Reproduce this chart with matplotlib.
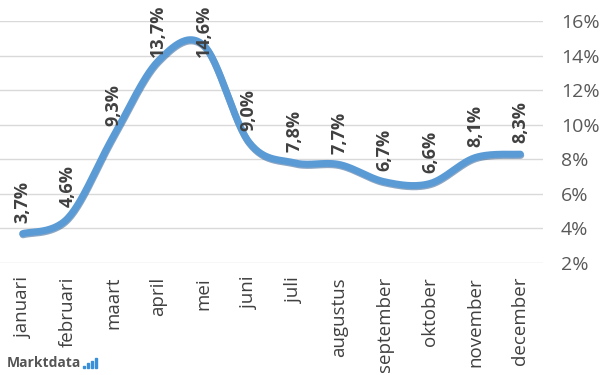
import numpy as np
import matplotlib.pyplot as plt
import matplotlib.patheffects as pe
from matplotlib.patches import Rectangle

# Data
months = ['januari', 'februari', 'maart', 'april', 'mei', 'juni', 'juli',
          'augustus', 'september', 'oktober', 'november', 'december']
values = [3.7, 4.6, 9.3, 13.7, 14.6, 9.0, 7.8, 7.7, 6.7, 6.6, 8.1, 8.3]
labels = ['3,7%', '4,6%', '9,3%', '13,7%', '14,6%', '9,0%', '7,8%', '7,7%',
          '6,7%', '6,6%', '8,1%', '8,3%']
yticks = [2, 4, 6, 8, 10, 12, 14, 16]

plt.rcParams['font.family'] = ['Open Sans', 'DejaVu Sans']

def smooth(x, y, n=30):
    # Catmull-Rom style smoothing like Excel's smoothed line
    x = np.asarray(x, float)
    y = np.asarray(y, float)
    px = np.concatenate([[x[0]], x, [x[-1]]])
    py = np.concatenate([[y[0]], y, [y[-1]]])
    xs, ys = [], []
    t = np.linspace(0, 1, n)
    for i in range(1, len(px) - 2):
        p0, p1, p2, p3 = px[i-1], px[i], px[i+1], px[i+2]
        q0, q1, q2, q3 = py[i-1], py[i], py[i+1], py[i+2]
        cx1, cx2 = p1 + (p2 - p0) / 6, p2 - (p3 - p1) / 6
        cy1, cy2 = q1 + (q2 - q0) / 6, q2 - (q3 - q1) / 6
        b0 = (1 - t) ** 3
        b1 = 3 * (1 - t) ** 2 * t
        b2 = 3 * (1 - t) * t ** 2
        b3 = t ** 3
        xs.append(b0 * p1 + b1 * cx1 + b2 * cx2 + b3 * p2)
        ys.append(b0 * q1 + b1 * cy1 + b2 * cy2 + b3 * q2)
    return np.concatenate(xs), np.concatenate(ys)

fig = plt.figure(figsize=(6, 3.75), dpi=100)
ax = fig.add_axes([0.0, 1 - 263 / 375, 543 / 600, (263 - 21) / 375])

xpos = np.arange(len(months))
sx, sy = smooth(xpos, values)
ax.plot(sx, sy, color='#5B9BD5', lw=5, solid_capstyle='round', zorder=3,
        path_effects=[pe.SimpleLineShadow(offset=(0.3, -0.9),
                                          shadow_color='#2f5f94', alpha=0.55),
                      pe.Normal()])

# labels centred a fixed distance above the point, kept inside the top
for x, v, lab in zip(xpos, values, labels):
    ly = min(v + 1.85, 15.45)
    ax.text(x, ly, lab, rotation=90, ha='center', va='center', fontsize=13,
            fontweight='bold', color='#404040', zorder=4)

ax.set_xlim(-0.5, 11.5)
ax.set_ylim(2, 16)
ax.set_yticks(yticks)
ax.set_yticklabels([f'{t}%' for t in yticks], fontsize=14, color='#595959')
ax.yaxis.tick_right()
ax.set_xticks(xpos)
ax.set_xticklabels(months, rotation=90, fontsize=13.5, color='#404040')
ax.tick_params(axis='x', length=0, pad=10)
ax.tick_params(axis='y', length=0, pad=13)
ax.grid(axis='y', color='#d9d9d9', lw=1)
ax.set_axisbelow(True)
for s in ax.spines.values():
    s.set_visible(False)

# watermark: name plus small blue dot and bars
fig.text(0.012, 0.032, 'Marktdata', fontsize=10, fontweight='bold',
         color='#555555', ha='left', va='center')
for bx, bh in [(83, 2), (87, 5), (91, 7), (95, 10)]:
    fig.patches.append(Rectangle((bx / 600, 1 - 368 / 375), 2 / 600, bh / 375,
                                 transform=fig.transFigure, color='#3a8fd9'))

fig.savefig('out.png', dpi=100, facecolor='white')
